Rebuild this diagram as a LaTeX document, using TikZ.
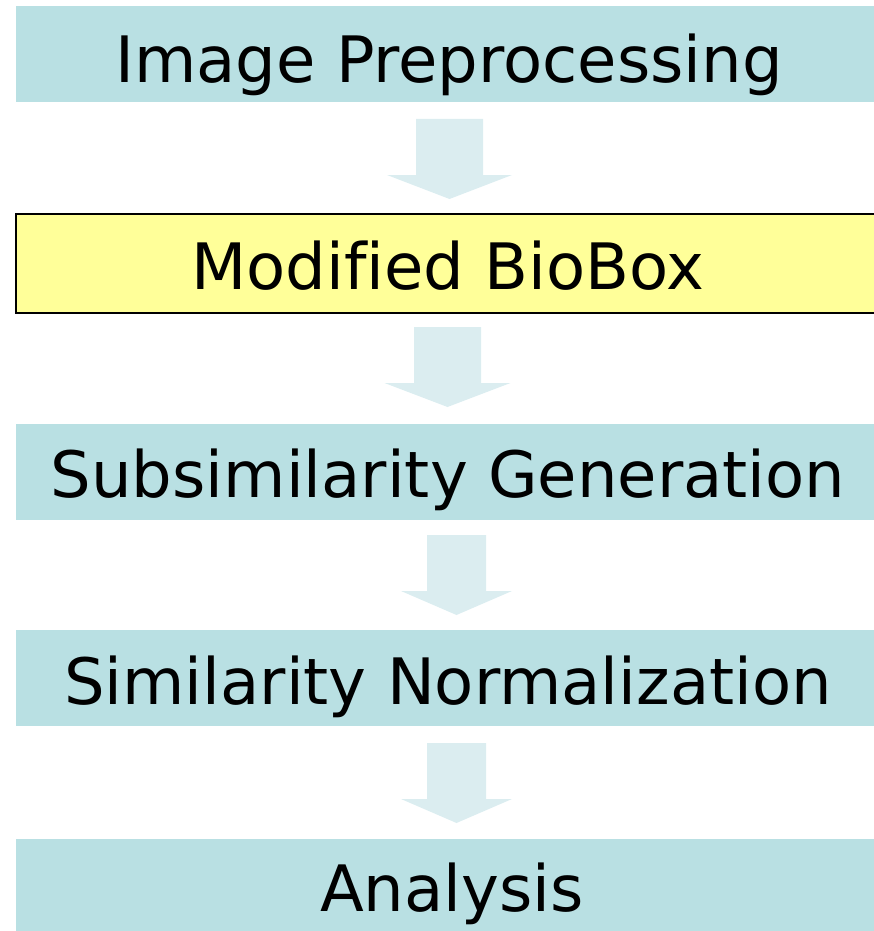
\documentclass[tikz,border=0pt]{standalone}
\usepackage{fontspec}
\setmainfont[Ligatures=NoCommon]{DejaVu Sans}
\definecolor{stagefill}{HTML}{B9E0E3}
\definecolor{flowfill}{HTML}{DBEDF0}
\definecolor{keyfill}{HTML}{FFFF99}
% block arrow: centre x, top y, tip y, shaft half-width, head half-width
\newcommand\blockarrow[5]{%
  \fill[flowfill] (#1-#4,#2) -- (#1+#4,#2) -- (#1+#4,#3-24) -- (#1+#5,#3-24)
    -- (#1,#3) -- (#1-#5,#3-24) -- (#1-#4,#3-24) -- cycle;}
\begin{document}
\begin{tikzpicture}[x=1pt,y=-1pt,
  stage/.style={fill=stagefill, minimum width=864pt, minimum height=96pt,
    inner sep=0pt, text depth=0pt, text height=52pt,
    font=\fontsize{64}{68}\selectfont},
  keystage/.style={stage, fill=keyfill, draw=black, line width=1.5pt,
    minimum height=99pt}]
\useasboundingbox (0,0) rectangle (873,931);

\node[stage, text height=58pt] (b1) at (448,54) {\hspace*{2pt}Image Preprocessing};
\node[keystage] (b2) at (448,263.5) {Modified BioBox};
\node[stage] (b3) at (448,471.5) {Subsimilarity Generation};
\node[stage] (b4) at (448,678) {Similarity Normalization};
\node[stage, text height=48pt] (b5) at (448,887) {\hspace*{8pt}Analysis};

\blockarrow{449.5}{119}{199}{33.5}{62.5}
\blockarrow{447.5}{327}{407}{33.5}{63}
\blockarrow{456.5}{535}{615}{29.5}{55.5}
\blockarrow{456.5}{743}{823}{29.5}{55.5}
\end{tikzpicture}
\end{document}
